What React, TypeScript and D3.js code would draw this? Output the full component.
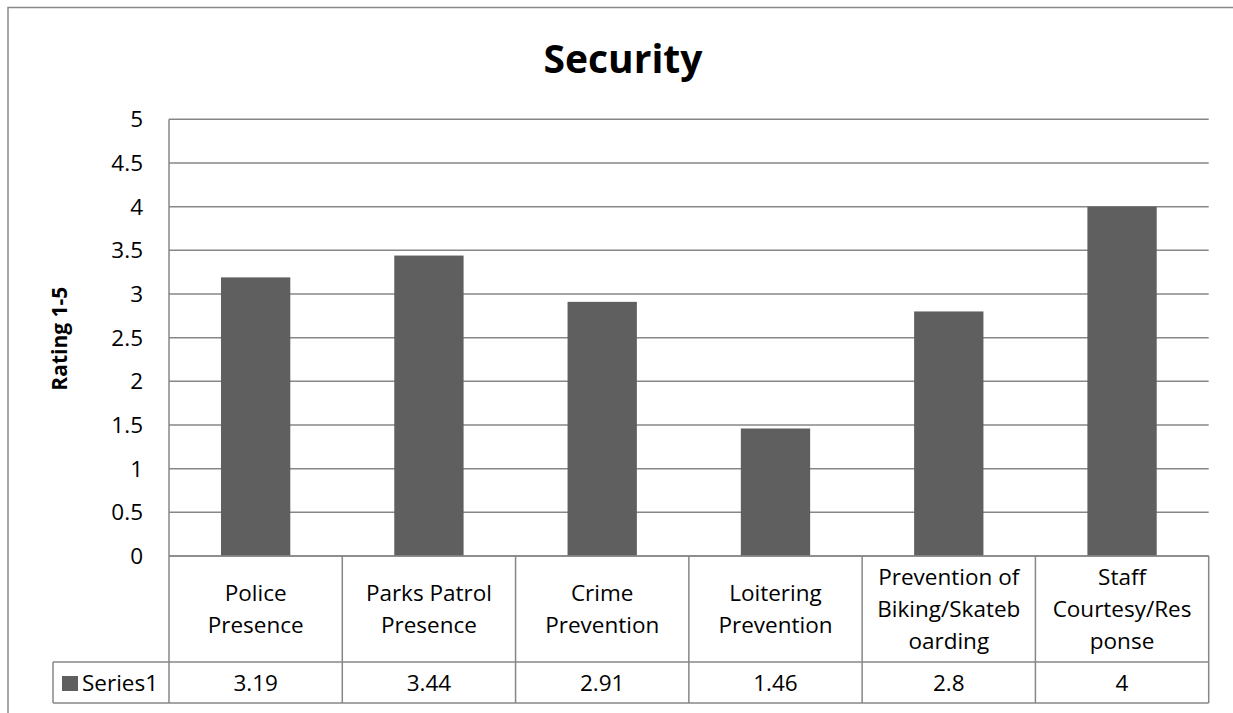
import React from 'react';
import * as d3 from 'd3';

const TITLE = 'Security';
const Y_LABEL = 'Rating 1-5';
const SERIES_NAME = 'Series1';
const CATEGORIES = [
  'Police Presence',
  'Parks Patrol Presence',
  'Crime Prevention',
  'Loitering Prevention',
  'Prevention of Biking/Skateboarding',
  'Staff Courtesy/Response',
];
// wrapped the way the picture wraps them
const CATEGORY_LINES = [
  ['Police', 'Presence'],
  ['Parks Patrol', 'Presence'],
  ['Crime', 'Prevention'],
  ['Loitering', 'Prevention'],
  ['Prevention of', 'Biking/Skateb', 'oarding'],
  ['Staff', 'Courtesy/Res', 'ponse'],
];
const VALUES = [3.19, 3.44, 2.91, 1.46, 2.8, 4];
const VALUE_LABELS = ['3.19', '3.44', '2.91', '1.46', '2.8', '4'];

const W = 1233, H = 713;
const FONT = "'Open Sans', 'Liberation Sans', sans-serif";
const GRID = '#878787';
const BAR = '#5f5f5f';
const FS = 22.5;

export default function App() {
  const m = { l: 169, r: 1208.7, t: 119.3, b: 556 };
  const rowMid = 662, rowBot = 703, keyLeft = 53;

  const x = d3.scaleBand<string>().domain(CATEGORIES).range([m.l, m.r]).padding(0);
  const y = d3.scaleLinear().domain([0, 5]).range([m.b, m.t]);
  const ticks = y.ticks(10);
  const bw = x.bandwidth();

  return (
    <svg width={W} height={H} style={{ position: 'absolute', left: 0, top: 0, background: '#fff' }} fontFamily={FONT}>
      {/* chart outline (cropped right + bottom) */}
      <rect x={8} y={7.5} width={W + 20} height={H + 20} fill="none" stroke="#8a8a8a" strokeWidth={1.5} />

      <text x={623} y={73} textAnchor="middle" fontSize={39} fontWeight="bold" fill="#000">{TITLE}</text>

      <text transform={`translate(67,${(m.t + m.b) / 2 + 1}) rotate(-90)`} textAnchor="middle" fontSize={21} fontWeight="bold" fill="#000">{Y_LABEL}</text>

      {/* gridlines + ticks */}
      {ticks.map(t => (
        <g key={t}>
          <line x1={m.l} x2={m.r} y1={y(t)} y2={y(t)} stroke={GRID} strokeWidth={1.5} />
          <text x={143} y={y(t)} dy="0.36em" textAnchor="end" fontSize={FS} fill="#000">{t}</text>
        </g>
      ))}
      <line x1={m.l} x2={m.l} y1={m.t} y2={rowBot} stroke={GRID} strokeWidth={1.5} />

      {/* bars */}
      {CATEGORIES.map((c, i) => (
        <rect key={c} x={(x(c) as number) + bw * 0.3} width={bw * 0.4} y={y(VALUES[i])} height={y(0) - y(VALUES[i])} fill={BAR} />
      ))}

      {/* data table */}
      <line x1={m.l} x2={m.r} y1={m.b} y2={m.b} stroke={GRID} strokeWidth={1.5} />
      <line x1={keyLeft} x2={m.r} y1={rowMid} y2={rowMid} stroke={GRID} strokeWidth={1.5} />
      <line x1={keyLeft} x2={m.r} y1={rowBot} y2={rowBot} stroke={GRID} strokeWidth={1.5} />
      <line x1={keyLeft} x2={keyLeft} y1={rowMid} y2={rowBot} stroke={GRID} strokeWidth={1.5} />
      {CATEGORIES.map(c => (
        <line key={c} x1={(x(c) as number) + bw} x2={(x(c) as number) + bw} y1={m.b} y2={rowBot} stroke={GRID} strokeWidth={1.5} />
      ))}

      {CATEGORIES.map((c, i) => {
        const lines = CATEGORY_LINES[i];
        const cx = (x(c) as number) + bw / 2;
        const cy = (m.b + rowMid) / 2;
        const lh = 32;
        return (
          <g key={c}>
            {lines.map((ln, j) => (
              <text key={j} x={cx} y={cy + (j - (lines.length - 1) / 2) * lh} dy="0.36em" textAnchor="middle" fontSize={FS} fill="#000">{ln}</text>
            ))}
            <text x={cx} y={(rowMid + rowBot) / 2} dy="0.36em" textAnchor="middle" fontSize={FS} fill="#000">{VALUE_LABELS[i]}</text>
          </g>
        );
      })}

      {/* legend key */}
      <rect x={62} y={676} width={16} height={15} fill={BAR} />
      <text x={82} y={(rowMid + rowBot) / 2} dy="0.36em" fontSize={FS} fill="#000">{SERIES_NAME}</text>
    </svg>
  );
}
